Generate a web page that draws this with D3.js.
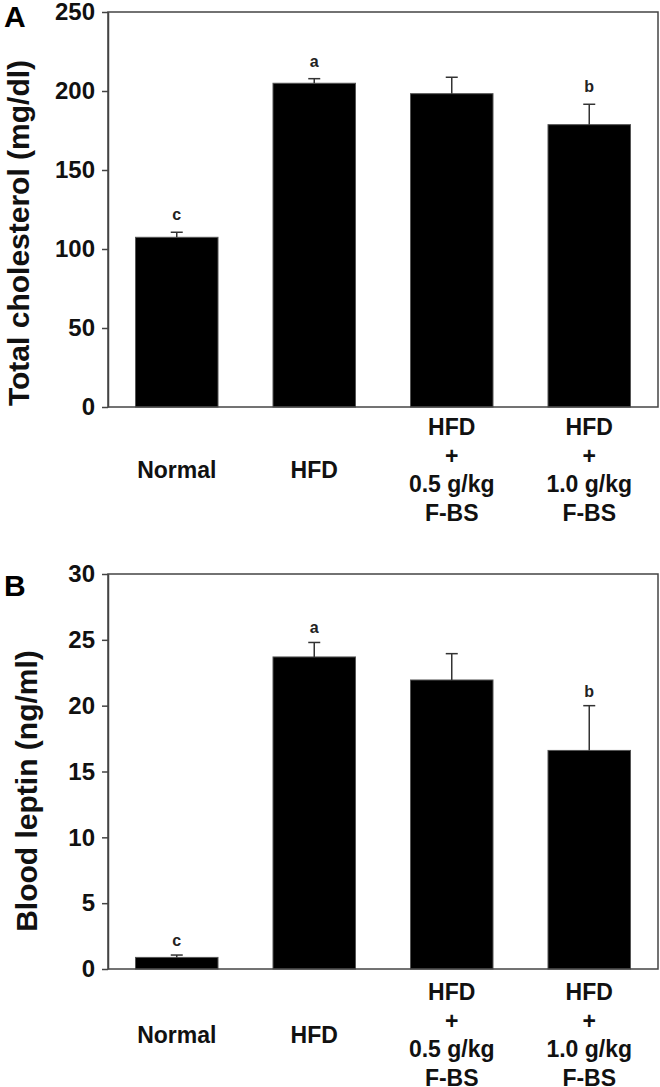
<!DOCTYPE html>
<html>
<head>
<meta charset="utf-8">
<script src="https://cdn.jsdelivr.net/npm/d3@7"></script>
<style>
  html, body { margin: 0; padding: 0; background: #fff; }
  svg { display: block; }
  text { font-family: Arial, "Liberation Sans", Helvetica, sans-serif; }
</style>
</head>
<body>
<svg id="chart" width="660" height="1087"></svg>
<script>
// ---- Data ----
const categories = [
  ["Normal"],
  ["HFD"],
  ["HFD", "+", "0.5 g/kg", "F-BS"],
  ["HFD", "+", "1.0 g/kg", "F-BS"]
];
const cholesterolMean = [107.4, 204.9, 198.3, 178.7];
const cholesterolSE   = [3.2, 2.9, 10.4, 12.9];
const cholesterolLetters = ["c", "a", "", "b"];
const cholesterolTicks = [0, 50, 100, 150, 200, 250];

const leptinMean = [0.88, 23.7, 21.95, 16.6];
const leptinSE   = [0.18, 1.1, 2.0, 3.4];
const leptinLetters = ["c", "a", "", "b"];
const leptinTicks = [0, 5, 10, 15, 20, 25, 30];

const svg = d3.select("#chart");

const panels = [
  { label: "A", title: "Total cholesterol (mg/dl)", mean: cholesterolMean, se: cholesterolSE,
    letters: cholesterolLetters, ticks: cholesterolTicks, max: 250,
    top: 12, bottom: 407, labelY: 27, titleX: 29, titleY: 233, letterGap: 12, catGap: 28 },
  { label: "B", title: "Blood leptin (ng/ml)", mean: leptinMean, se: leptinSE,
    letters: leptinLetters, ticks: leptinTicks, max: 30,
    top: 574, bottom: 969, labelY: 596, titleX: 37, titleY: 791, letterGap: 9, catGap: 31 }
];

const left = 108, right = 658;
const lineH = 28.7;

const x = d3.scaleBand()
  .domain(d3.range(categories.length))
  .range([left, right])
  .paddingInner(0.4)
  .paddingOuter(0.2);

panels.forEach(p => {
  const g = svg.append("g");
  const y = d3.scaleLinear().domain([0, p.max]).range([p.bottom, p.top]);

  // bars
  g.selectAll("rect.bar").data(p.mean).join("rect")
    .attr("class", "bar")
    .attr("x", (d, i) => x(i))
    .attr("width", x.bandwidth())
    .attr("y", d => y(d))
    .attr("height", d => y(0) - y(d))
    .attr("fill", "#000")
    .attr("stroke", "#555")
    .attr("stroke-width", 1);

  // error bars (upper only)
  const cap = 12;
  p.mean.forEach((m, i) => {
    const cx = x(i) + x.bandwidth() / 2;
    const yt = y(m + p.se[i]);
    g.append("line").attr("x1", cx).attr("x2", cx).attr("y1", y(m)).attr("y2", yt)
      .attr("stroke", "#333").attr("stroke-width", 1.5);
    g.append("line").attr("x1", cx - cap / 2).attr("x2", cx + cap / 2).attr("y1", yt).attr("y2", yt)
      .attr("stroke", "#333").attr("stroke-width", 1.5);
    if (p.letters[i]) {
      g.append("text").attr("x", cx).attr("y", yt - p.letterGap)
        .attr("text-anchor", "middle").attr("font-size", 16).attr("font-weight", "bold")
        .attr("fill", "#222").text(p.letters[i]);
    }
  });

  // frame
  g.append("rect").attr("x", left).attr("y", p.top)
    .attr("width", right - left).attr("height", p.bottom - p.top)
    .attr("fill", "none").attr("stroke", "#444").attr("stroke-width", 1.5);

  // y axis
  const ax = g.append("g").attr("transform", `translate(${left},0)`)
    .call(d3.axisLeft(y).tickValues(p.ticks).tickSize(6).tickPadding(7).tickSizeOuter(0));
  ax.select(".domain").attr("stroke", "#444").attr("stroke-width", 1.5);
  ax.selectAll(".tick line").attr("stroke", "#444").attr("stroke-width", 1.5);
  ax.selectAll(".tick text").attr("font-size", 24).attr("font-weight", "bold")
    .attr("fill", "#111").attr("font-family", "Arial, 'Liberation Sans', sans-serif");

  // category labels
  categories.forEach((lines, i) => {
    const cx = x(i) + x.bandwidth() / 2;
    const firstBase = p.bottom + p.catGap;
    const mid = firstBase + lineH * 1.5;
    const start = mid - lineH * (lines.length - 1) / 2;
    const t = g.append("text").attr("text-anchor", "middle")
      .attr("font-size", 23).attr("font-weight", "bold").attr("fill", "#111");
    lines.forEach((ln, k) => {
      t.append("tspan").attr("x", cx).attr("y", start + k * lineH).text(ln);
    });
  });

  // y title
  g.append("text")
    .attr("transform", `translate(${p.titleX},${p.titleY}) rotate(-90)`)
    .attr("text-anchor", "middle")
    .attr("font-size", 30).attr("font-weight", "bold").attr("fill", "#111")
    .text(p.title);

  // panel label
  g.append("text").attr("x", 4).attr("y", p.labelY)
    .attr("font-size", 30).attr("font-weight", "bold").attr("fill", "#000")
    .text(p.label);
});
</script>
</body>
</html>
